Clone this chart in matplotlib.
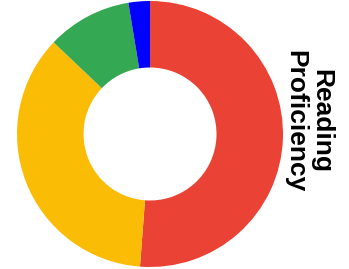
import matplotlib
matplotlib.use("Agg")
import matplotlib.pyplot as plt

labels = ["Level 1", "Level 2", "Level 3", "Level 4"]
values = [51.2, 35.9, 10.3, 2.6]
colors = ["#EA4335", "#FBBC05", "#34A853", "#0000FF"]
title = "Reading\nProficiency"

W, H = 349, 269
fig = plt.figure(figsize=(W / 100, H / 100), dpi=100)
ax = fig.add_axes([17 / W, 2 / H, 266 / W, 266 / H])
ax.pie(values, colors=colors, startangle=90, counterclock=False,
       radius=1.0, wedgeprops=dict(width=0.5, linewidth=0))
ax.set_xlim(-1, 1)
ax.set_ylim(-1, 1)
ax.set_aspect("equal")
ax.axis("off")

fig.text(308 / W, 148 / H, title, rotation=-90, ha="center", va="center",
         multialignment="center", fontsize=19, fontweight="bold",
         family=["Liberation Sans", "DejaVu Sans"], linespacing=1.1)

fig.savefig("out.png", dpi=100)
